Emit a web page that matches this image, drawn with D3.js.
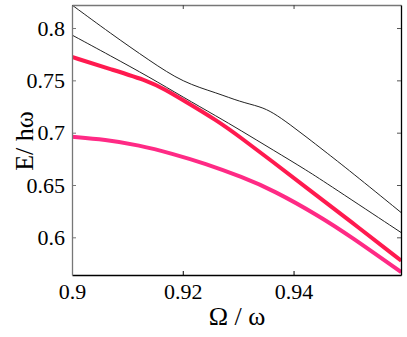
<!DOCTYPE html>
<html><head><meta charset="utf-8">
<script src="https://cdn.jsdelivr.net/npm/d3@7"></script>
</head><body style="margin:0">
<svg id="c" width="407" height="337" font-family="Liberation Serif"></svg>
<script>
const upperX = [0.9, 0.90687, 0.91409, 0.92005, 0.9262, 0.93035, 0.93397, 0.93631, 0.93939, 0.94246, 0.94535, 0.95022, 0.95944];
const upperY = [0.822, 0.7952, 0.7685, 0.7479, 0.7379, 0.7295, 0.7250, 0.7192, 0.7077, 0.6953, 0.6834, 0.6633, 0.6236];
const lowerX = [0.9, 0.90687, 0.91409, 0.92005, 0.9262, 0.93035, 0.93631, 0.94246, 0.94661, 0.95944];
const lowerY = [0.7933, 0.7737, 0.7527, 0.7340, 0.7154, 0.7025, 0.6834, 0.6638, 0.6494, 0.6045];
const redX = [0.9, 0.90687, 0.91409, 0.91680, 0.92005, 0.9262, 0.93035, 0.93631, 0.94246, 0.95022, 0.95944];
const redY = [0.7723, 0.7608, 0.7489, 0.7412, 0.7312, 0.7116, 0.6958, 0.6719, 0.6470, 0.6155, 0.5777];
const pinkX = [0.9, 0.90596, 0.91210, 0.91807, 0.92403, 0.93071, 0.93631, 0.94481, 0.95022, 0.95944];
const pinkY = [0.6961, 0.6934, 0.6881, 0.6800, 0.6705, 0.6576, 0.6451, 0.6198, 0.6011, 0.5667];
const xTicks = [0.9, 0.92, 0.94];
const xTickLabels = ["0.9", "0.92", "0.94"];
const yTicks = [0.6, 0.65, 0.7, 0.75, 0.8];
const yTickLabels = ["0.6", "0.65", "0.7", "0.75", "0.8"];

const L = 72, R = 401, T = 5, B = 275;
const x = d3.scaleLinear().domain([0.9, 0.9594]).range([L, R]);
const y = d3.scaleLinear().domain([0.564, 0.822]).range([B, T]);
const svg = d3.select("#c");
const FF = "Liberation Serif";

svg.append("defs").append("clipPath").attr("id", "clip")
  .append("rect").attr("x", L).attr("y", T).attr("width", R - L).attr("height", B - T);

const line = d3.line().x(d => x(d[0])).y(d => y(d[1])).curve(d3.curveBasis);
const zip = (a, b) => a.map((v, i) => [v, b[i]]);
const g = svg.append("g").attr("clip-path", "url(#clip)");

g.append("path").attr("d", line(zip(pinkX, pinkY))).attr("fill", "none").attr("stroke", "#ff2a85").attr("stroke-width", 4);
g.append("path").attr("d", line(zip(redX, redY))).attr("fill", "none").attr("stroke", "#ff1a4f").attr("stroke-width", 4);
g.append("path").attr("d", line(zip(upperX, upperY))).attr("fill", "none").attr("stroke", "#222").attr("stroke-width", 1);
g.append("path").attr("d", line(zip(lowerX, lowerY))).attr("fill", "none").attr("stroke", "#222").attr("stroke-width", 1);

const tl = 4;
const ax = svg.append("g");
const xa = ax.append("g").attr("transform", `translate(0,${B})`)
  .call(d3.axisBottom(x).tickValues(xTicks).tickFormat((d, i) => xTickLabels[i]).tickSizeInner(-tl).tickSizeOuter(0).tickPadding(8));
xa.attr("font-family", FF).attr("font-size", 22);
xa.select(".domain").attr("stroke", "#000");
xa.selectAll("line").attr("stroke", "#000");
xa.selectAll("text").attr("font-family", FF).attr("font-size", 22).attr("fill", "#000");

const xt = ax.append("g").attr("transform", `translate(0,${T})`)
  .call(d3.axisTop(x).tickValues(xTicks).tickFormat("").tickSizeInner(-tl).tickSizeOuter(0));
xt.select(".domain").attr("stroke", "#777");
xt.selectAll("line").attr("stroke", "#444");

const ya = ax.append("g").attr("transform", `translate(${L},0)`)
  .call(d3.axisLeft(y).tickValues(yTicks).tickFormat((d, i) => yTickLabels[i]).tickSizeInner(-tl).tickSizeOuter(0).tickPadding(7));
ya.attr("font-family", FF).attr("font-size", 22);
ya.select(".domain").attr("stroke", "#777");
ya.selectAll("line").attr("stroke", "#777");
ya.selectAll("text").attr("font-family", FF).attr("font-size", 22).attr("fill", "#000");

const yr = ax.append("g").attr("transform", `translate(${R},0)`)
  .call(d3.axisRight(y).tickValues(yTicks).tickFormat("").tickSizeInner(-tl).tickSizeOuter(0));
yr.select(".domain").attr("stroke", "#000");
yr.selectAll("line").attr("stroke", "#555");
ax.selectAll(".domain").attr("stroke-width", 1.3);

svg.append("text").attr("x", 237).attr("y", 325).attr("text-anchor", "middle")
  .attr("font-family", FF).attr("font-size", 26).text("Ω / ω");
svg.append("text").attr("transform", "translate(33,141) rotate(-90)").attr("text-anchor", "middle")
  .attr("font-family", FF).attr("font-size", 26).text("E/ hω");
</script>
</body></html>
